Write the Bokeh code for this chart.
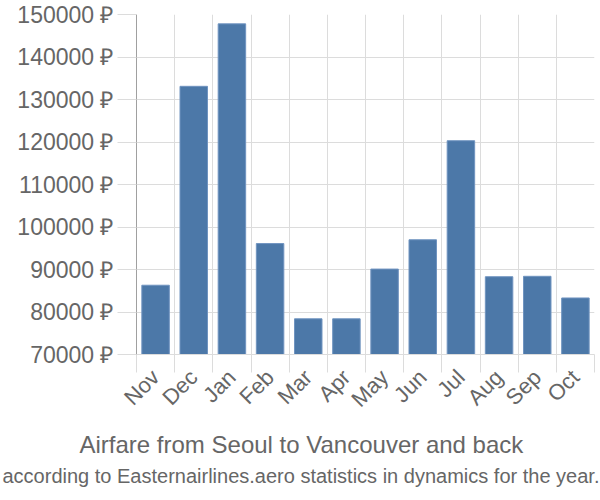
from bokeh.plotting import figure
from bokeh.models import Range1d, FixedTicker, Title
from bokeh.embed import file_html
from bokeh.resources import INLINE
import math

months = ["Nov", "Dec", "Jan", "Feb", "Mar", "Apr", "May", "Jun", "Jul", "Aug", "Sep", "Oct"]
prices = [86300, 133100, 147800, 96100, 78400, 78400, 90100, 97000, 120300, 88300, 88400, 83300]
y_ticks = [70000, 80000, 90000, 100000, 110000, 120000, 130000, 140000, 150000]
title_text = "Airfare from Seoul to Vancouver and back"
subtitle_text = "according to Easternairlines.aero statistics in dynamics for the year."

n = len(months)
centers = [i + 0.5 for i in range(n)]
bounds = list(range(n + 1))

FONT = "Liberation Sans"
TXT = "#666666"
GRID = "#dcdcdc"

W, H = 600, 500
BL, BR, BT, BB = 136, 6, 14, 146

p = figure(width=W, height=H, output_backend="svg", toolbar_location=None,
           x_range=Range1d(0, n), y_range=Range1d(y_ticks[0], y_ticks[-1]),
           min_border_left=BL, min_border_right=BR, min_border_top=BT, min_border_bottom=BB)
p.outline_line_color = None
p.background_fill_color = "white"

p.vbar(x=centers, top=prices, bottom=y_ticks[0], width=0.72,
       fill_color="#4c78a8", line_color="#7094c0", line_width=1)

# x axis
xa = p.xaxis[0]
xa.ticker = FixedTicker(ticks=centers, minor_ticks=bounds)
xa.major_label_overrides = {c: m for c, m in zip(centers, months)}
xa.major_tick_out = 0
xa.major_tick_in = 0
xa.minor_tick_out = 18
xa.minor_tick_in = 0
xa.minor_tick_line_color = GRID
xa.axis_line_color = GRID
xa.major_label_orientation = math.pi / 4
xa.major_label_text_font = FONT
xa.major_label_text_font_size = "22px"
xa.major_label_text_color = TXT
xa.major_label_standoff = 1

# y axis
ya = p.yaxis[0]
ya.ticker = FixedTicker(ticks=y_ticks)
ya.major_label_overrides = {v: f"{v} ₽" for v in y_ticks}
ya.major_tick_out = 19
ya.major_tick_in = 0
ya.major_tick_line_color = GRID
ya.minor_tick_line_color = None
ya.axis_line_color = "#a0a0a0"
ya.major_label_text_font = FONT
ya.major_label_text_font_size = "23px"
ya.major_label_text_color = TXT
ya.major_label_standoff = 4

p.xgrid.ticker = FixedTicker(ticks=bounds)
p.xgrid.grid_line_color = GRID
p.ygrid.grid_line_color = GRID

# titles centred on the whole canvas (left-aligned with an offset from the frame's left edge)
t1 = Title(text=title_text, align="left", offset=79 - BL, text_font=FONT, text_font_size="24px",
           text_color=TXT, text_font_style="normal", standoff=10)
t2 = Title(text=subtitle_text, align="left", offset=2 - BL, text_font=FONT, text_font_size="20px",
           text_color=TXT, text_font_style="normal", standoff=0)
p.add_layout(t1, "below")
p.add_layout(t2, "below")

open("out.html", "w").write(file_html(p, INLINE))
